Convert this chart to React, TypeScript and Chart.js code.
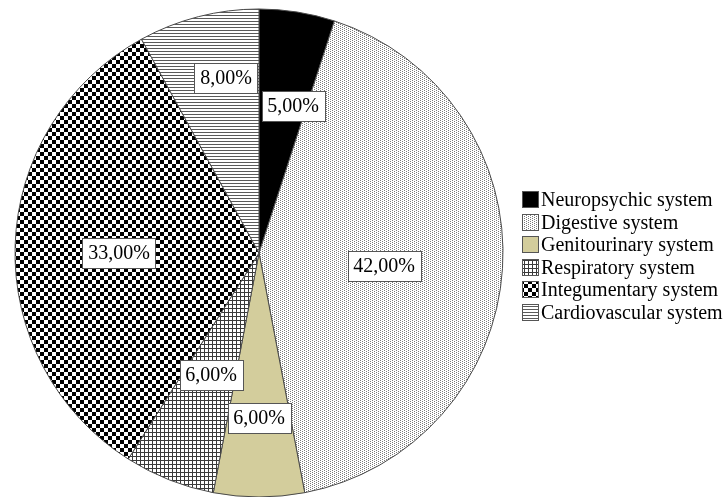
import React, { useEffect, useRef } from "react";
import { Chart, registerables } from "chart.js";

Chart.register(...registerables);

// Distribution of cases by organ system (percent of total)
const categories = [
  "Neuropsychic system",
  "Digestive system",
  "Genitourinary system",
  "Respiratory system",
  "Integumentary system",
  "Cardiovascular system",
];
const shares = [5, 42, 6, 6, 33, 8];

// Label box placement: fraction of the radius and fraction of the way through each slice
const labelRadius = [0.62, 0.517, 0.676, 0.537, 0.574, 0.73];
const labelSweep = [0.73, 0.515, 0.5, 0.49, 0.485, 0.625];

const FONT = '"Liberation Serif", "Times New Roman", serif';

const formatShare = (v: number) => v.toFixed(2).replace(".", ",") + "%";

function makePattern(
  ctx: CanvasRenderingContext2D,
  w: number,
  h: number,
  draw: (g: CanvasRenderingContext2D) => void
): CanvasPattern {
  const c = document.createElement("canvas");
  c.width = w;
  c.height = h;
  const g = c.getContext("2d")!;
  g.fillStyle = "#ffffff";
  g.fillRect(0, 0, w, h);
  draw(g);
  return ctx.createPattern(c, "repeat")!;
}

function buildFills(ctx: CanvasRenderingContext2D): (string | CanvasPattern)[] {
  const dots = makePattern(ctx, 4, 2, (g) => {
    g.fillStyle = "#7a7a7a";
    g.fillRect(0, 0, 1, 1);
    g.fillRect(2, 1, 1, 1);
  });
  const grid = makePattern(ctx, 4, 4, (g) => {
    g.fillStyle = "#3a3a3a";
    g.fillRect(0, 0, 4, 1);
    g.fillRect(0, 0, 1, 4);
  });
  const checker = makePattern(ctx, 8, 8, (g) => {
    g.fillStyle = "#000000";
    g.fillRect(0, 0, 4, 4);
    g.fillRect(4, 4, 4, 4);
  });
  const stripes = makePattern(ctx, 1, 3, (g) => {
    g.fillStyle = "#5a5a5a";
    g.fillRect(0, 0, 1, 1);
  });
  return ["#000000", dots, "#d3cd9c", grid, checker, stripes];
}

// Boxed percentage labels inside the slices
const sliceLabels = {
  id: "sliceLabels",
  afterDatasetsDraw(chart: Chart) {
    const ctx = chart.ctx;
    const meta = chart.getDatasetMeta(0);
    const values = chart.data.datasets[0].data as number[];
    ctx.save();
    ctx.font = `20px ${FONT}`;
    ctx.textAlign = "center";
    ctx.textBaseline = "middle";
    meta.data.forEach((el: any, i: number) => {
      const { x, y, startAngle, endAngle, outerRadius } = el.getProps(
        ["x", "y", "startAngle", "endAngle", "outerRadius"],
        true
      );
      const a = startAngle + (endAngle - startAngle) * labelSweep[i];
      const r = outerRadius * labelRadius[i];
      const cx = x + Math.cos(a) * r;
      const cy = y + Math.sin(a) * r;
      const text = formatShare(values[i]);
      const tw = ctx.measureText(text).width;
      const bw = Math.round(tw + 11);
      const bh = 30;
      const bx = Math.round(cx - bw / 2) + 0.5;
      const by = Math.round(cy - bh / 2) + 0.5;
      ctx.fillStyle = "#ffffff";
      ctx.fillRect(bx, by, bw, bh);
      ctx.strokeStyle = "#555555";
      ctx.lineWidth = 1;
      ctx.strokeRect(bx, by, bw, bh);
      ctx.fillStyle = "#000000";
      ctx.fillText(text, Math.round(cx), Math.round(cy) + 1);
    });
    ctx.restore();
  },
};

// Legend at the right: pattern swatches with category names
const sideLegend = {
  id: "sideLegend",
  afterDraw(chart: Chart) {
    const ctx = chart.ctx;
    const fills = chart.data.datasets[0].backgroundColor as (string | CanvasPattern)[];
    const labels = chart.data.labels as string[];
    const x0 = 522;
    const rowH = 22.5;
    const top = 191;
    const box = 17;
    ctx.save();
    ctx.font = `20px ${FONT}`;
    ctx.textAlign = "left";
    ctx.textBaseline = "middle";
    labels.forEach((label, i) => {
      const by = Math.round(top + i * rowH);
      ctx.fillStyle = fills[i] as any;
      ctx.fillRect(x0, by, box, box);
      ctx.strokeStyle = "#555555";
      ctx.lineWidth = 1;
      ctx.strokeRect(x0 + 0.5, by + 0.5, box - 1, box - 1);
      ctx.fillStyle = "#000000";
      ctx.fillText(label, x0 + box + 2, by + box / 2 + 1);
    });
    ctx.restore();
  },
};

export default function App() {
  const canvasRef = useRef<HTMLCanvasElement | null>(null);

  useEffect(() => {
    const canvas = canvasRef.current;
    if (!canvas) return;
    const ctx = canvas.getContext("2d")!;
    const fills = buildFills(ctx);
    const chart = new Chart(canvas, {
      type: "pie",
      data: {
        labels: categories,
        datasets: [
          {
            data: shares,
            backgroundColor: fills as any,
            borderColor: "#4a4a4a",
            borderWidth: 1,
          },
        ],
      },
      options: {
        responsive: false,
        animation: false,
        devicePixelRatio: 1,
        radius: 244,
        layout: { padding: { left: 15, top: 9, right: 221, bottom: 0 } },
        plugins: {
          legend: { display: false },
          tooltip: { enabled: false },
        },
      },
      plugins: [sliceLabels, sideLegend],
    });
    return () => chart.destroy();
  }, []);

  return (
    <div style={{ position: "fixed", left: 0, top: 0, width: 724, height: 497, background: "#ffffff" }}>
      <canvas ref={canvasRef} width={724} height={497} />
    </div>
  );
}
